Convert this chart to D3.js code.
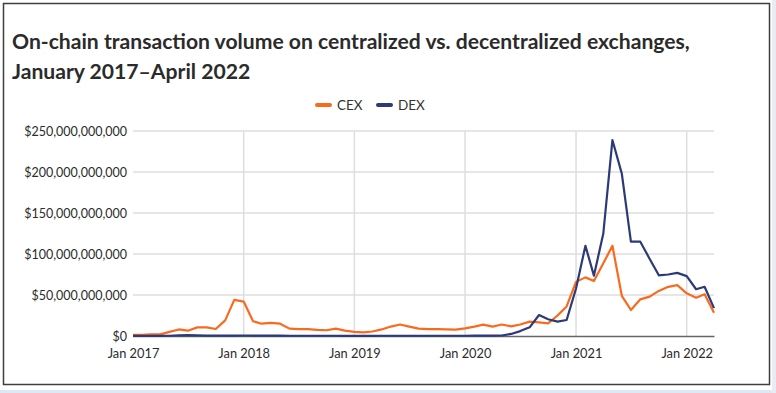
<!DOCTYPE html>
<html>
<head>
<meta charset="utf-8">
<script src="https://cdn.jsdelivr.net/npm/d3@7"></script>
<style>
  html, body { margin: 0; padding: 0; background: #ffffff; }
  svg { display: block; }
</style>
</head>
<body>
<svg id="chart" width="776" height="393"></svg>
<script>
// ---- Data (values in billions of USD, monthly Jan 2017 – Apr 2022) ----
const titleLines = ["On-chain transaction volume on centralized vs. decentralized exchanges,", "January 2017\u2013April 2022"];
const seriesNames = ["CEX", "DEX"];
const seriesColors = ["#f96a1f", "#2c3a77"];

const cexValues = [
  1.5, 1.5, 2, 2, 5, 8, 6.5, 10.5, 10.5, 8.5, 19, 44,          // 2017
  42, 18, 15, 16, 15, 9, 8.5, 8.5, 7.5, 7, 9, 6.5,             // 2018
  5, 4.5, 5.5, 8, 11.5, 14, 11.5, 9, 8.5, 8.5, 8, 7.7,         // 2019
  9.3, 11.4, 13.8, 11.4, 14, 11.8, 14, 17.5, 16.5, 15.5, 25, 36, // 2020
  66, 71.5, 67, 88.6, 110, 49, 31.7, 44.7, 48, 55, 60, 62,     // 2021
  52, 46.7, 51, 28.5                                          // 2022
];
const dexValues = [
  0.1, 0.1, 0.1, 0.2, 0.3, 0.8, 1, 0.7, 0.5, 0.4, 0.4, 0.5,    // 2017
  0.6, 0.5, 0.4, 0.4, 0.4, 0.3, 0.3, 0.3, 0.3, 0.3, 0.3, 0.2,  // 2018
  0.2, 0.2, 0.2, 0.3, 0.3, 0.3, 0.3, 0.3, 0.3, 0.3, 0.3, 0.3,  // 2019
  0.3, 0.4, 0.5, 0.4, 0.6, 2.5, 6, 10.6, 25.6, 20.5, 17.5, 19.5, // 2020
  58, 110, 73.6, 125, 239, 198, 115, 115, 94, 74, 75, 77,      // 2021
  73, 57, 60, 34                                              // 2022
];
const xTickLabels = ["Jan 2017", "Jan 2018", "Jan 2019", "Jan 2020", "Jan 2021", "Jan 2022"];
const yTickValues = [0, 50e9, 100e9, 150e9, 200e9, 250e9];

// ---- Setup ----
const svg = d3.select("#chart");
const W = 776, H = 393;
const margin = { left: 133, right: 62, top: 131, bottom: 57 };
const x0 = margin.left, x1 = W - margin.right, yTop = margin.top, yBot = H - margin.bottom;

const months = d3.timeMonth.range(new Date(2017, 0, 1), new Date(2022, 4, 1));
const cex = months.map((d, i) => ({ date: d, value: cexValues[i] * 1e9 }));
const dex = months.map((d, i) => ({ date: d, value: dexValues[i] * 1e9 }));

const x = d3.scaleTime().domain([new Date(2017, 0, 1), new Date(2022, 3, 1)]).range([x0, x1]);
const y = d3.scaleLinear().domain([0, 250e9]).range([yBot, yTop]);

// outer decorations
svg.append("rect").attr("x", 0).attr("y", 0).attr("width", W).attr("height", H).attr("fill", "#ffffff");
svg.append("rect").attr("x", 0).attr("y", 390).attr("width", W).attr("height", 3).attr("fill", "#dfe7f4");
svg.append("rect").attr("x", 772).attr("y", 0).attr("width", 4).attr("height", H).attr("fill", "#e9edf3");
svg.append("rect").attr("x", 3.5).attr("y", 3.5).attr("width", 766).attr("height", 381)
  .attr("fill", "#ffffff").attr("stroke", "#3f3f3f").attr("stroke-width", 1.5);

// Title
const titleG = svg.append("g");
const targetWidth = 678;
const t1 = titleG.append("text").attr("x", 12).attr("y", 49)
  .attr("font-family", "Lato, 'Open Sans', sans-serif").attr("font-weight", 700)
  .attr("font-size", 20).attr("fill", "#2b2b2b").text(titleLines[0]);
const measured = t1.node().getComputedTextLength();
const fs = 20 * targetWidth / measured;
t1.attr("font-size", fs);
titleG.append("text").attr("x", 12).attr("y", 79)
  .attr("font-family", "Lato, 'Open Sans', sans-serif").attr("font-weight", 700)
  .attr("font-size", fs).attr("fill", "#2b2b2b").text(titleLines[1]);

// Legend
const legend = svg.append("g").attr("font-family", "Lato, 'Open Sans', sans-serif").attr("font-size", 13.5).attr("fill", "#333");
const legendX = [317, 378];
seriesNames.forEach((name, i) => {
  legend.append("line").attr("x1", legendX[i]).attr("x2", legendX[i] + 13)
    .attr("y1", 105).attr("y2", 105)
    .attr("stroke", seriesColors[i]).attr("stroke-width", 4).attr("stroke-linecap", "round");
  legend.append("text").attr("x", legendX[i] + 20).attr("y", 109.5).text(name);
});

// Grid lines
const xTicks = xTickLabels.map((l, i) => new Date(2017 + i, 0, 1));
svg.append("g").selectAll("line.h").data(yTickValues.slice(1)).join("line")
  .attr("x1", x0).attr("x2", x1).attr("y1", d => y(d)).attr("y2", d => y(d))
  .attr("stroke", "#dedede").attr("stroke-width", 1.5);
svg.append("g").selectAll("line.v").data(xTicks.slice(1)).join("line")
  .attr("x1", d => x(d)).attr("x2", d => x(d)).attr("y1", yTop).attr("y2", yBot)
  .attr("stroke", "#dedede").attr("stroke-width", 1.5);

// Axes
const fmt = d3.format(",");
const yAxis = d3.axisLeft(y).tickValues(yTickValues).tickSize(0).tickPadding(6)
  .tickFormat(d => "$" + fmt(d));
const yg = svg.append("g").attr("transform", `translate(${x0},0)`).call(yAxis);
yg.select(".domain").remove();
yg.selectAll("text").attr("font-family", "Lato, 'Open Sans', sans-serif").attr("font-size", 12.5).attr("fill", "#2b2b2b");

const xAxis = d3.axisBottom(x).tickValues(xTicks).tickSize(0).tickPadding(13)
  .tickFormat((d, i) => xTickLabels[i]);
const xg = svg.append("g").attr("transform", `translate(0,${yBot})`).call(xAxis);
xg.select(".domain").attr("stroke", "#666").attr("stroke-width", 1.5);
xg.selectAll("text").attr("font-family", "Lato, 'Open Sans', sans-serif").attr("font-size", 12.8).attr("fill", "#2b2b2b");

// Lines
const line = d3.line().x(d => x(d.date)).y(d => y(d.value));
[cex, dex].forEach((s, i) => {
  svg.append("path").datum(s).attr("d", line)
    .attr("fill", "none").attr("stroke", seriesColors[i]).attr("stroke-width", 2.2)
    .attr("stroke-linejoin", "round");
});
</script>
</body>
</html>
